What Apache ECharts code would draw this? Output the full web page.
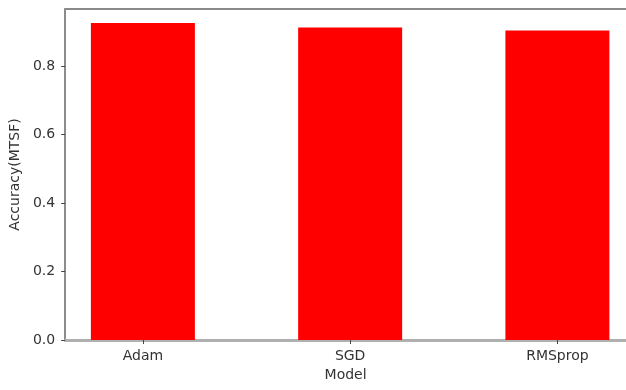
<!DOCTYPE html>
<html>
<head>
<meta charset="utf-8">
<script src="https://cdn.jsdelivr.net/npm/echarts@6/dist/echarts.min.js"></script>
<style>html,body{margin:0;padding:0;background:#fff;}#c{width:626px;height:390px;}</style>
</head>
<body>
<div id="c"></div>
<script>
const categories = ["Adam", "SGD", "RMSprop"];
const accuracy = [0.926, 0.913, 0.904];
const yTicks = [0, 0.2, 0.4, 0.6, 0.8];

const chart = echarts.init(document.getElementById('c'), null, {renderer: 'canvas'});
const font = 'DejaVu Sans';
const catIdx = categories.map((_, i) => i);
chart.setOption({
  animation: false,
  grid: {left: 65, top: 9, bottom: 50, right: 0},
  xAxis: [{
    type: 'value', min: -0.375, max: 2.331,
    name: 'Model', nameLocation: 'middle', nameGap: 26,
    nameTextStyle: {fontFamily: font, fontSize: 14, color: '#333'},
    splitLine: {show: false},
    axisLine: {show: true, onZero: false, lineStyle: {color: '#b0b0b0', width: 3}},
    axisTick: {show: true, customValues: catIdx, length: 4, lineStyle: {color: '#444', width: 1}},
    axisLabel: {customValues: catIdx, formatter: v => categories[Math.round(v)] || '', fontFamily: font, fontSize: 14, color: '#333', margin: 9}
  }, {
    type: 'value', position: 'top', min: -0.375, max: 2.331,
    splitLine: {show: false}, axisTick: {show: false}, axisLabel: {show: false},
    axisLine: {show: true, onZero: false, lineStyle: {color: '#8a8a8a', width: 2}}
  }],
  yAxis: {
    type: 'value', min: 0, max: 0.967,
    name: 'Accuracy(MTSF)', nameLocation: 'middle', nameGap: 41,
    nameTextStyle: {fontFamily: font, fontSize: 14, color: '#333'},
    splitLine: {show: false},
    axisLine: {show: true, onZero: false, lineStyle: {color: '#666', width: 1.5}},
    axisTick: {show: true, customValues: yTicks, length: 4, lineStyle: {color: '#444', width: 1}},
    axisLabel: {customValues: yTicks, formatter: v => v.toFixed(1), fontFamily: font, fontSize: 14, color: '#333', margin: 10}
  },
  series: [{
    type: 'bar',
    data: accuracy.map((v, i) => [i, v]),
    barWidth: 104,
    itemStyle: {color: '#ff0000'}
  }]
});
</script>
</body>
</html>
